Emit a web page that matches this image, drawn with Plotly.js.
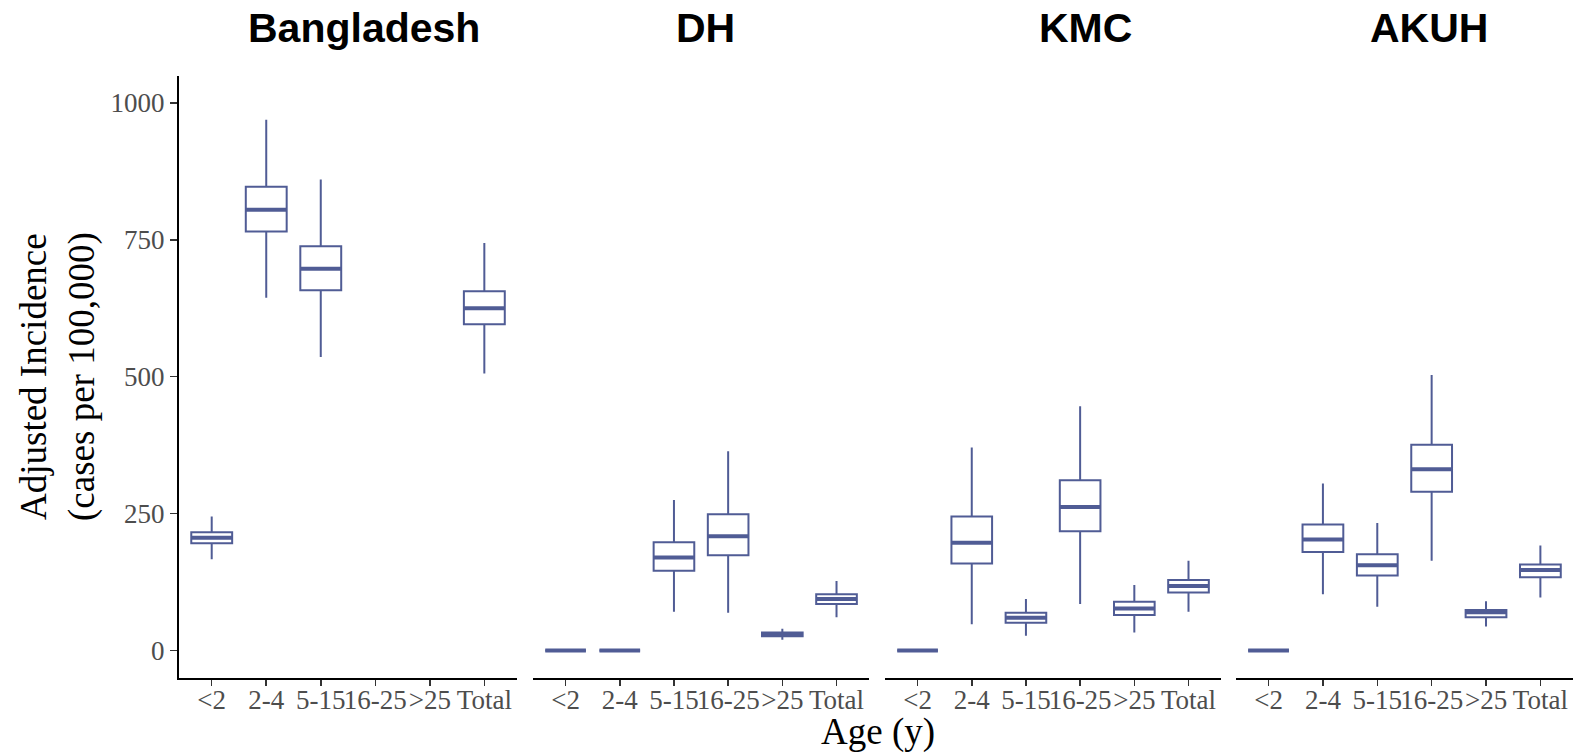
<!DOCTYPE html>
<html>
<head>
<meta charset="utf-8">
<script src="https://cdn.plot.ly/plotly-3.0.1.min.js"></script>
<style>html,body{margin:0;padding:0;background:#fff;}#chart{width:1581px;height:753px;}</style>
</head>
<body>
<div id="chart"></div>
<script>
// ---- data ----
const categories = ['<2', '2-4', '5-15', '16-25', '>25', 'Total'];
const sites = ['Bangladesh', 'DH', 'KMC', 'AKUH'];

const bangladeshLow = [167, 644, 536, null, null, 506];
const bangladeshQ1  = [196, 765, 658, null, null, 596];
const bangladeshMed = [206, 805, 697, null, null, 625];
const bangladeshQ3  = [216, 847, 738, null, null, 656];
const bangladeshUp  = [245, 969, 860, null, null, 744];

const dhLow = [0, 0, 71, 69, 20, 61];
const dhQ1  = [0, 0, 146, 174, 26, 85];
const dhMed = [0, 0, 170, 209, 29, 94];
const dhQ3  = [0, 0, 198, 249, 33, 103];
const dhUp  = [0, 0, 275, 364, 40, 127];

const kmcLow = [0, 48, 27, 85, 33, 71];
const kmcQ1  = [0, 159, 51, 218, 65, 106];
const kmcMed = [0, 197, 60, 262, 77, 118];
const kmcQ3  = [0, 245, 69, 311, 89, 129];
const kmcUp  = [0, 371, 94, 446, 120, 164];

const akuhLow = [0, 103, 80, 164, 44, 97];
const akuhQ1  = [0, 180, 137, 290, 61, 134];
const akuhMed = [0, 203, 156, 331, 70, 147];
const akuhQ3  = [0, 230, 176, 376, 74, 157];
const akuhUp  = [0, 305, 233, 503, 90, 192];

const yTicks = [0, 250, 500, 750, 1000];

// ---- styling ----
const boxColor = '#505C95';
const boxWidth = 0.75;
const serif = 'Liberation Serif, Times New Roman, serif';
const sans = 'Liberation Sans, Arial, sans-serif';

const siteData = [
  {low: bangladeshLow, q1: bangladeshQ1, med: bangladeshMed, q3: bangladeshQ3, up: bangladeshUp},
  {low: dhLow, q1: dhQ1, med: dhMed, q3: dhQ3, up: dhUp},
  {low: kmcLow, q1: kmcQ1, med: kmcMed, q3: kmcQ3, up: kmcUp},
  {low: akuhLow, q1: akuhQ1, med: akuhMed, q3: akuhQ3, up: akuhUp}
];

const traces = [];
siteData.forEach((d, s) => {
  const xa = s === 0 ? 'x' : 'x' + (s + 1);
  const idx = categories.map((c, i) => i).filter(i => d.med[i] !== null);
  traces.push({
    type: 'box',
    name: sites[s],
    xaxis: xa, yaxis: 'y',
    x: idx,
    q1: idx.map(i => d.q1[i]),
    median: idx.map(i => d.med[i]),
    q3: idx.map(i => d.q3[i]),
    lowerfence: idx.map(i => d.low[i]),
    upperfence: idx.map(i => d.up[i]),
    width: boxWidth,
    whiskerwidth: 0,
    boxpoints: false,
    fillcolor: '#ffffff',
    line: {color: boxColor, width: 2},
    hoverinfo: 'skip'
  });
  // thicker median line as in ggplot
  const mx = [], my = [];
  idx.forEach(i => {
    mx.push(i - boxWidth / 2, i + boxWidth / 2, null);
    my.push(d.med[i], d.med[i], null);
  });
  traces.push({
    type: 'scatter', mode: 'lines',
    xaxis: xa, yaxis: 'y',
    x: mx, y: my,
    line: {color: boxColor, width: 4},
    hoverinfo: 'skip', connectgaps: false
  });
});

const domains = [[0, 0.2425], [0.2540, 0.4950], [0.5065, 0.7475], [0.7582, 1]];
function xaxisDef(dom) {
  return {
    domain: dom, anchor: 'y',
    range: [-0.6, categories.length - 0.4],
    tickmode: 'array',
    tickvals: categories.map((c, i) => i),
    ticktext: categories,
    tickangle: 0,
    ticklabelstandoff: -9,
    showline: true, linecolor: '#000', linewidth: 2,
    ticks: 'outside', ticklen: 6, tickwidth: 1.5, tickcolor: '#333',
    showgrid: false, zeroline: false,
    tickfont: {family: serif, size: 27, color: '#4D4D4D'},
    fixedrange: true
  };
}

const layout = {
  width: 1581, height: 753,
  margin: {l: 179, r: 8, t: 76, b: 75},
  paper_bgcolor: '#fff', plot_bgcolor: '#fff',
  showlegend: false,
  xaxis: xaxisDef(domains[0]),
  xaxis2: xaxisDef(domains[1]),
  xaxis3: xaxisDef(domains[2]),
  xaxis4: xaxisDef(domains[3]),
  yaxis: {
    anchor: 'x',
    range: [-50, 1049],
    tickmode: 'array', tickvals: yTicks, ticktext: yTicks.map(String),
    showline: true, linecolor: '#000', linewidth: 2,
    ticks: 'outside', ticklen: 7, tickwidth: 1.5, tickcolor: '#333',
    showgrid: false, zeroline: false,
    tickfont: {family: serif, size: 27, color: '#4D4D4D'},
    fixedrange: true
  },
  annotations: [
    {text: sites[0], xref: 'paper', yref: 'paper', x: 0.1324, y: 1.0797, showarrow: false, xanchor: 'center', yanchor: 'middle', font: {family: sans, size: 41, color: '#000', weight: 'bold'}},
    {text: sites[1], xref: 'paper', yref: 'paper', x: 0.378, y: 1.0797, showarrow: false, xanchor: 'center', yanchor: 'middle', font: {family: sans, size: 41, color: '#000', weight: 'bold'}},
    {text: sites[2], xref: 'paper', yref: 'paper', x: 0.650, y: 1.0797, showarrow: false, xanchor: 'center', yanchor: 'middle', font: {family: sans, size: 41, color: '#000', weight: 'bold'}},
    {text: sites[3], xref: 'paper', yref: 'paper', x: 0.8967, y: 1.0797, showarrow: false, xanchor: 'center', yanchor: 'middle', font: {family: sans, size: 41, color: '#000', weight: 'bold'}},
    {text: 'Adjusted Incidence<br>(cases per 100,000)', xref: 'paper', yref: 'paper', x: -0.0868, y: 0.5, textangle: -90, showarrow: false, xanchor: 'center', yanchor: 'middle', font: {family: serif, size: 37, color: '#000'}},
    {text: 'Age (y)', xref: 'paper', yref: 'paper', x: 0.5012, y: -0.090, showarrow: false, xanchor: 'center', yanchor: 'middle', font: {family: serif, size: 37, color: '#000'}}
  ]
};

Plotly.newPlot('chart', traces, layout, {staticPlot: true, displayModeBar: false});
</script>
</body>
</html>
